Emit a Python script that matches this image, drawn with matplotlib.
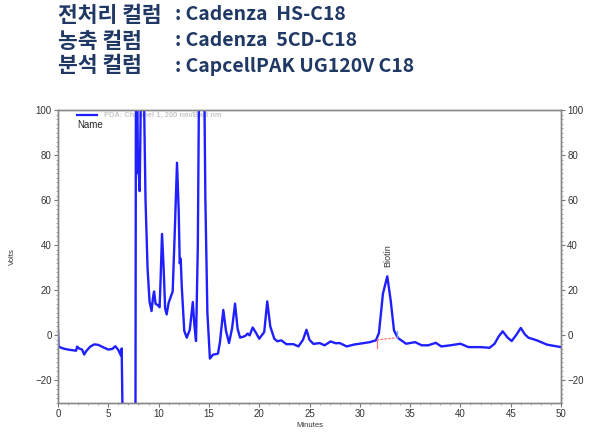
import matplotlib
matplotlib.use('Agg')
import matplotlib.pyplot as plt
from matplotlib.ticker import MultipleLocator

# chromatogram trace (minutes, volts)
time_min = [0.0, 0.05, 0.5, 1.0, 1.5, 1.8, 1.9, 2.1, 2.4, 2.6, 2.8, 3.2, 3.6, 4.0, 4.5,
            5.0, 5.4, 5.7, 6.0, 6.25, 6.33, 6.43, 7.0, 7.7, 7.75, 7.85, 7.95, 8.0, 8.12,
            8.25, 8.4, 8.5, 8.7, 8.9, 9.1, 9.3, 9.45, 9.55, 9.7, 9.9, 10.1, 10.2, 10.34,
            10.5, 10.65, 10.8, 11.0, 11.4, 11.6, 11.83, 12.0, 12.1, 12.2, 12.3, 12.55,
            12.8, 13.1, 13.4, 13.55, 13.72, 13.9, 14.05, 14.5, 14.65, 14.85, 15.1, 15.4,
            15.9, 16.1, 16.43, 16.7, 17.0, 17.3, 17.6, 17.85, 18.1, 18.6, 18.85, 19.05,
            19.35, 19.7, 20.0, 20.5, 20.8, 21.1, 21.5, 21.8, 22.2, 22.7, 23.4, 23.9,
            24.35, 24.7, 25.0, 25.4, 26.0, 26.5, 27.1, 27.6, 28.0, 28.7, 29.4, 30.0,
            31.0, 31.6, 31.9, 32.3, 32.73, 33.07, 33.4, 33.8, 34.6, 35.5, 36.15, 36.8,
            37.55, 38.1, 39.0, 40.0, 40.8, 42.0, 42.9, 43.4, 43.8, 44.2, 44.7, 45.1,
            45.6, 46.0, 46.4, 46.75, 47.6, 48.6, 50.0]
volts = [2.0, -5.0, -5.8, -6.3, -6.6, -6.8, -5.0, -5.8, -6.3, -8.5, -7.0, -5.0, -4.0, -4.2, -5.3,
         -6.3, -6.0, -4.8, -6.5, -8.9, -5.8, -40, -45, -40, 130, 130, 72, 75, 64,
         110, 130, 120, 60, 30, 15, 10.8, 17, 19.5, 14, 13.5, 12.5, 25, 45,
         30, 12, 9.3, 14.5, 19.5, 45, 76.6, 55, 32, 34, 22, 2,
         -1, 2.5, 14.8, 5, -2.5, 40, 130, 130, 60, 10, -10.3, -8.6,
         -8.1, -3, 11.3, 2, -3.4, 3, 14.1, 3, -1, -0.3, 0.8, 0.0,
         3.5, 1, -1.5, 1.5, 15.1, 4, -1.5, -2.6, -2.2, -3.9, -3.9, -4.9,
         -2, 2.5, -2, -3.8, -3.4, -4.4, -2.7, -3.5, -3.4, -4.9, -4.1, -3.7,
         -3.0, -2.2, 1, 18.5, 26.2, 15.5, 2.2, -1.2, -3.7, -3.0, -4.4, -4.4,
         -3.3, -4.9, -4.4, -3.7, -5.2, -5.2, -5.5, -3.7, -0.5, 1.8, -1, -2.5,
         0.5, 3.3, 0.5, -1, -2.2, -4.1, -5.2]

# integration baseline under the Biotin peak
base_t = [31.7, 33.8]
base_v = [-2.0, -1.0]
peak_name = 'Biotin'
peak_t = 32.73
peak_v = 26.2

title_labels = ['전처리 컬럼', '농축 컬럼', '분석 컬럼']
title_values = [': Cadenza  HS-C18', ': Cadenza  5CD-C18', ': CapcellPAK UG120V C18']

x_ticks = list(range(0, 51, 5))
y_ticks = [-20, 0, 20, 40, 60, 80, 100]

fig = plt.figure(figsize=(6.0, 4.4), dpi=100)
ax = fig.add_axes([58 / 600, 1 - 403 / 440, 503 / 600, 293 / 440])

ax.plot(time_min, volts, color='#1f1fff', lw=1.7, zorder=3)
ax.plot(base_t, base_v, color='#ff7070', lw=0.9, ls=(0, (2, 1)), zorder=4)
ax.plot([base_t[0], base_t[0]], [-5.8, -1.5], color='#ff7070', lw=0.9, zorder=4)
ax.plot([33.7, 33.7], [-1.0, 1.9], color='#7f9fff', lw=0.9, zorder=4)
ax.text(peak_t, peak_v + 4, peak_name, rotation=90, ha='center', va='bottom',
        fontsize=6.5, color='#333333', family='Liberation Sans')

# legend line and header texts
ax.plot([1.9, 3.9], [97.6, 97.6], color='#1f1fff', lw=1.6, zorder=2)
ax.text(4.6, 97.6, 'PDA: Channel 1, 200 nm/Bw8 nm', fontsize=5.4, color='#c8c8c8',
        fontweight='bold', va='center', family='Liberation Sans', zorder=1)
ax.text(1.9, 93.5, 'Name', fontsize=7, color='#222222', va='center', family='Liberation Sans')

ax.set_xlim(0, 50)
ax.set_ylim(-30, 100)
ax.set_xticks(x_ticks)
ax.set_yticks(y_ticks)
ax.xaxis.set_minor_locator(MultipleLocator(1))
ax.yaxis.set_minor_locator(MultipleLocator(2))
ax.set_xlabel('Minutes', fontsize=5.5, color='#333333', family='Liberation Sans', labelpad=2)
ax.set_ylabel('Volts', fontsize=5.5, color='#333333', family='Liberation Sans', labelpad=14)

ax2 = ax.twinx()
ax2.set_ylim(-30, 100)
ax2.set_yticks(y_ticks)
ax2.yaxis.set_minor_locator(MultipleLocator(2))

for a in (ax, ax2):
    for s in a.spines.values():
        s.set_color('#888888')
        s.set_linewidth(1.0)
    a.tick_params(which='major', length=3, width=0.8, color='#777777',
                  labelsize=7, labelcolor='#333333', pad=1.5)
    a.tick_params(which='minor', length=1.5, width=0.6, color='#999999')
    for lab in a.get_xticklabels() + a.get_yticklabels():
        lab.set_family('Liberation Sans')

# three-line title above the chart
title_color = '#1f3864'
title_y = [15, 41, 66]
for lab, val, py in zip(title_labels, title_values, title_y):
    fig.text(58 / 600, 1 - py / 440, lab, fontsize=15.5, fontweight='bold', color=title_color,
             va='center', ha='left', family=['Noto Sans CJK KR', 'DejaVu Sans'])
    fig.text(175 / 600, 1 - py / 440, val, fontsize=14, fontweight='bold', color=title_color,
             va='center', ha='left', family=['Noto Sans CJK KR', 'DejaVu Sans'])

fig.savefig('out.png', dpi=100)
